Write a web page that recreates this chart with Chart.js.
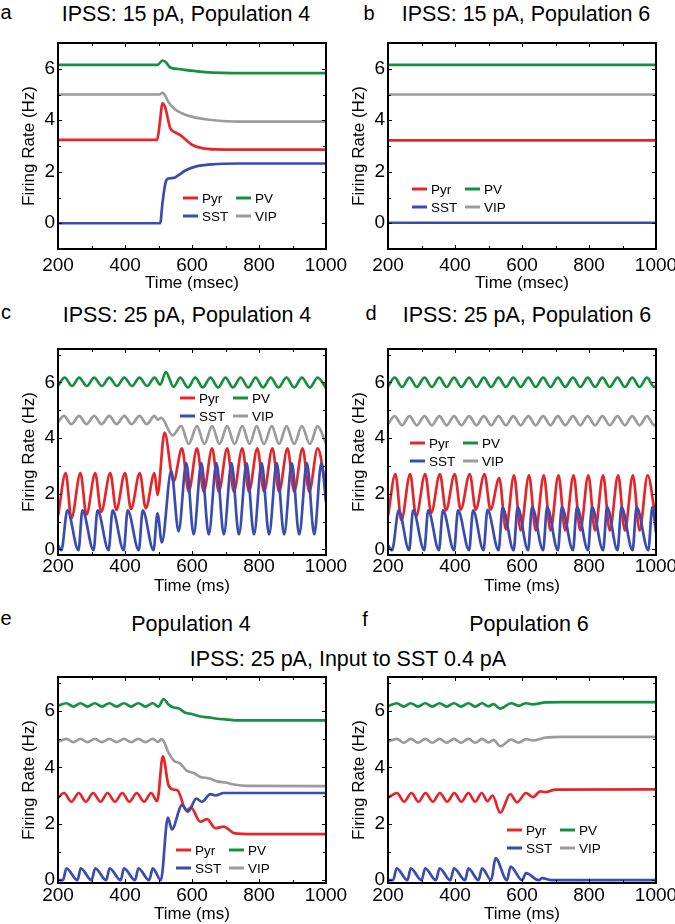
<!DOCTYPE html>
<html>
<head>
<meta charset="utf-8">
<title>IPSS firing rates</title>
<script src="https://cdn.jsdelivr.net/npm/chart.js@4.4.1/dist/chart.umd.min.js"></script>
<style>
  html, body { margin: 0; padding: 0; background: #fff; }
  body { width: 675px; height: 924px; position: relative; overflow: hidden;
         font-family: "Liberation Sans", Arial, sans-serif; color: #000; }
  canvas { position: absolute; }
  .txt { position: absolute; white-space: nowrap; line-height: 1; transform: translate(-50%, -50%); }
  .letter { font-size: 20px; }
  .title { font-size: 21.5px; }
</style>
</head>
<body>
<div class="txt letter" style="left:6px;top:12px">a</div>
<div class="txt title" style="left:186px;top:15px">IPSS: 15 pA, Population 4</div>
<div class="txt letter" style="left:369px;top:13px">b</div>
<div class="txt title" style="left:526px;top:15px">IPSS: 15 pA, Population 6</div>
<div class="txt letter" style="left:6px;top:312px">c</div>
<div class="txt title" style="left:187px;top:316px">IPSS: 25 pA, Population 4</div>
<div class="txt letter" style="left:371px;top:313px">d</div>
<div class="txt title" style="left:527px;top:316px">IPSS: 25 pA, Population 6</div>
<div class="txt letter" style="left:6px;top:618px">e</div>
<div class="txt title" style="left:191px;top:625px">Population 4</div>
<div class="txt letter" style="left:365px;top:619px">f</div>
<div class="txt title" style="left:529px;top:625px">Population 6</div>
<div class="txt title" style="left:348px;top:660px">IPSS: 25 pA, Input to SST 0.4 pA</div>

<canvas id="panelA" width="356" height="261"></canvas>
<canvas id="panelB" width="356" height="261"></canvas>
<canvas id="panelC" width="356" height="261"></canvas>
<canvas id="panelD" width="356" height="261"></canvas>
<canvas id="panelE" width="356" height="261"></canvas>
<canvas id="panelF" width="356" height="261"></canvas>

<script>
// axis ticks
const timeTicks = [200, 400, 600, 800, 1000];
const timeMinorTicks = [300, 500, 700, 900];
const rateTicks = [0, 2, 4, 6];
const rateMinorTicks = [-1, 1, 3, 5, 7];

const seriesColors = { Pyr: '#e4262b', PV: '#14903f', SST: '#3a4bb1', VIP: '#9b9b9b' };
const legendGrid = [['Pyr', 'PV'], ['SST', 'VIP']];
// draw order: first one ends up on top
const drawOrder = ['SST', 'Pyr', 'VIP', 'PV'];

// a: IPSS 15 pA, population 4  [time ms, rate Hz]
const pyrA = [[200,3.24],[496,3.24],[503,3.8],[512,4.66],[520,4.5],[535,3.7],[550,3.53],[565,3.42],[580,3.26],[600,3.05],[630,2.92],[670,2.87],[750,2.86],[1000,2.86]];
const pvA  = [[200,6.15],[497,6.15],[512,6.32],[522,6.25],[535,6.05],[560,5.99],[590,5.94],[640,5.87],[690,5.84],[760,5.83],[1000,5.83]];
const sstA = [[200,0],[505,0],[512,0.8],[521,1.58],[530,1.74],[545,1.76],[560,1.87],[580,2.05],[610,2.2],[660,2.29],[740,2.32],[1000,2.32]];
const vipA = [[200,5.0],[503,5.0],[512,5.06],[518,5.0],[530,4.7],[550,4.42],[570,4.27],[590,4.17],[640,4.04],[690,3.97],[760,3.95],[1000,3.95]];

// b: IPSS 15 pA, population 6
const pyrB = [[200,3.22],[1000,3.22]];
const pvB  = [[200,6.15],[1000,6.15]];
const sstB = [[200,0.02],[1000,0.02]];
const vipB = [[200,5.0],[1000,5.0]];

// c: IPSS 25 pA, population 4
const pyrC = [[200,1.2],[223,2.74],[240,1.12],[267,2.74],[285,1.25],[311,2.74],[329,1.35],[356,2.74],[374,1.42],[400,2.74],[418,1.45],[444,2.74],[462,1.48],[488,2.74],[497,1.96],[518,4.2],[545,2.45],[570,3.63],[590,2.08],[615,3.63],[635,2.08],[660,3.63],[680,2.08],[705,3.63],[725,2.08],[750,3.63],[770,2.08],[795,3.63],[815,2.08],[840,3.63],[860,2.08],[885,3.63],[905,2.08],[930,3.63],[950,2.08],[975,3.63],[1000,2.2]];
const pvC  = [[200,5.88],[220,6.17],[242,5.87],[263,6.17],[286,5.87],[308,6.17],[331,5.87],[353,6.17],[376,5.87],[398,6.17],[421,5.87],[443,6.17],[466,5.87],[488,6.17],[505,5.92],[522,6.37],[545,5.84],[565,6.17],[588,5.82],[610,6.17],[632,5.82],[655,6.17],[678,5.82],[700,6.17],[722,5.82],[745,6.17],[768,5.82],[790,6.17],[812,5.82],[835,6.17],[858,5.82],[882,6.17],[905,5.82],[928,6.17],[952,5.82],[975,6.17],[1000,5.8]];
const sstC = [[200,0.15],[210,-0.03],[228,1.4],[261,-0.03],[273,1.4],[306,-0.03],[318,1.4],[351,-0.03],[363,1.4],[396,-0.03],[408,1.4],[441,-0.03],[453,1.4],[485,-0.03],[497,1.3],[510,0.25],[538,2.82],[560,0.65],[583,3.1],[605,0.54],[628,3.1],[650,0.54],[673,3.1],[695,0.54],[718,3.1],[740,0.54],[763,3.1],[785,0.54],[808,3.1],[830,0.54],[853,3.1],[875,0.54],[898,3.1],[920,0.54],[943,3.1],[965,0.54],[986,3.1],[1000,1.7]];
const vipC = [[200,4.58],[218,4.8],[240,4.5],[263,4.8],[285,4.5],[308,4.8],[330,4.5],[353,4.8],[375,4.5],[398,4.8],[420,4.5],[443,4.8],[465,4.5],[488,4.8],[498,4.66],[508,4.73],[542,4.1],[568,4.43],[590,3.79],[615,4.43],[637,3.79],[660,4.43],[682,3.79],[705,4.43],[727,3.79],[750,4.43],[772,3.79],[793,4.43],[815,3.79],[838,4.43],[860,3.79],[882,4.43],[905,3.79],[928,4.43],[952,3.79],[975,4.43],[1000,3.8]];

// d: IPSS 25 pA, population 6
const pyrD = [[200,1.2],[222,2.71],[240,1.05],[266,2.71],[284,1.19],[311,2.71],[329,1.32],[355,2.71],[373,1.4],[399,2.71],[417,1.43],[444,2.71],[462,1.43],[488,2.71],[506,1.43],[532,2.56],[552,0.72],[576,2.66],[596,0.68],[621,2.66],[641,0.68],[665,2.66],[685,0.68],[709,2.66],[729,0.68],[754,2.66],[774,0.68],[798,2.66],[818,0.68],[842,2.66],[862,0.68],[887,2.66],[907,0.68],[931,2.66],[951,0.68],[975,2.66],[1000,1.0]];
const pvD  = [[200,5.86],[220,6.17],[242,5.84],[264,6.17],[286,5.84],[309,6.17],[331,5.84],[353,6.17],[375,5.84],[397,6.17],[419,5.84],[442,6.17],[464,5.84],[486,6.17],[508,5.84],[530,6.17],[552,5.84],[574,6.17],[596,5.84],[619,6.17],[641,5.84],[663,6.17],[685,5.84],[707,6.17],[729,5.84],[752,6.17],[774,5.84],[796,6.17],[818,5.84],[840,6.17],[862,5.84],[885,6.17],[907,5.84],[929,6.17],[951,5.84],[973,6.17],[995,5.84],[1000,5.86]];
const sstD = [[200,0.15],[212,-0.03],[232,1.4],[263,-0.03],[275,1.4],[308,-0.03],[320,1.4],[352,-0.03],[364,1.4],[397,-0.03],[409,1.4],[442,-0.03],[454,1.4],[485,-0.03],[497,1.42],[530,-0.03],[542,1.5],[575,-0.03],[587,1.52],[618,-0.03],[630,1.52],[663,-0.03],[675,1.52],[707,-0.03],[719,1.52],[752,-0.03],[764,1.52],[797,-0.03],[809,1.52],[842,-0.03],[854,1.52],[885,-0.03],[897,1.52],[930,-0.03],[942,1.52],[977,-0.03],[989,1.52],[1000,0.6]];
const vipD = [[200,4.5],[220,4.79],[242,4.46],[264,4.79],[286,4.46],[309,4.79],[331,4.46],[353,4.79],[375,4.46],[397,4.79],[419,4.46],[442,4.79],[464,4.46],[486,4.79],[508,4.46],[530,4.79],[552,4.46],[574,4.79],[596,4.46],[619,4.79],[641,4.46],[663,4.79],[685,4.46],[707,4.79],[729,4.46],[752,4.79],[774,4.46],[796,4.79],[818,4.46],[840,4.79],[862,4.46],[885,4.79],[907,4.46],[929,4.79],[951,4.46],[973,4.79],[995,4.46],[1000,4.5]];

// e: IPSS 25 pA + 0.4 pA to SST, population 4
const pyrE = [[200,2.92],[218,3.09],[240,2.78],[262,3.09],[283,2.78],[305,3.09],[327,2.78],[348,3.09],[370,2.78],[392,3.09],[413,2.78],[435,3.09],[457,2.78],[478,3.09],[496,2.8],[513,4.39],[530,3.36],[545,3.21],[557,3.18],[583,2.48],[597,2.57],[625,2.07],[645,2.16],[670,1.84],[695,1.9],[725,1.67],[785,1.63],[1000,1.63]];
const pvE  = [[200,6.18],[225,6.27],[246,6.15],[267,6.27],[288,6.15],[310,6.27],[331,6.15],[353,6.27],[375,6.15],[397,6.27],[418,6.15],[440,6.27],[461,6.15],[483,6.27],[500,6.15],[515,6.42],[530,6.22],[545,6.12],[560,6.09],[580,5.93],[600,5.89],[625,5.8],[650,5.77],[675,5.72],[700,5.7],[740,5.66],[1000,5.66]];
const sstE = [[200,0],[215,0],[225,0.42],[258,0],[268,0.42],[300,0],[311,0.42],[344,0],[354,0.42],[387,0],[397,0.42],[430,0],[440,0.42],[472,0],[483,0.42],[507,0],[528,2.22],[540,1.8],[570,2.66],[588,2.43],[613,2.89],[630,2.78],[655,3.05],[670,3.0],[695,3.09],[1000,3.09]];
const vipE = [[200,4.9],[225,5.01],[246,4.89],[267,5.01],[288,4.89],[310,5.01],[331,4.89],[353,5.01],[375,4.89],[397,5.01],[418,4.89],[440,5.01],[461,4.89],[483,5.01],[498,4.9],[510,5.0],[530,4.52],[547,4.22],[563,4.15],[585,3.87],[605,3.8],[625,3.66],[650,3.61],[675,3.5],[700,3.46],[725,3.39],[765,3.34],[1000,3.33]];

// f: IPSS 25 pA + 0.4 pA to SST, population 6
const pyrF = [[200,2.92],[227,3.09],[248,2.78],[270,3.09],[291,2.78],[312,3.09],[334,2.78],[355,3.09],[377,2.78],[398,3.09],[419,2.78],[440,3.09],[460,2.78],[480,3.09],[497,2.8],[512,3.0],[535,2.39],[565,3.05],[585,2.76],[612,3.09],[632,2.94],[655,3.15],[670,3.12],[700,3.21],[1000,3.22]];
const pvF  = [[200,6.17],[226,6.27],[247,6.15],[268,6.27],[290,6.15],[311,6.27],[332,6.15],[354,6.27],[375,6.15],[397,6.27],[418,6.15],[440,6.27],[460,6.15],[481,6.27],[500,6.16],[515,6.24],[535,6.08],[568,6.27],[590,6.18],[612,6.27],[632,6.23],[670,6.3],[720,6.31],[1000,6.31]];
const sstF = [[200,0],[215,0],[226,0.42],[258,0],[268,0.42],[300,0],[311,0.42],[343,0],[354,0.42],[386,0],[397,0.42],[430,0],[440,0.42],[470,0],[481,0.42],[508,0],[521,0.78],[555,0],[566,0.48],[600,0],[612,0.25],[650,0],[660,0.07],[690,0],[1000,0]];
const vipF = [[200,4.9],[226,5.01],[247,4.87],[268,5.01],[290,4.87],[311,5.01],[332,4.87],[354,5.01],[375,4.87],[397,5.01],[418,4.87],[440,5.01],[460,4.87],[481,5.01],[500,4.88],[515,4.97],[535,4.75],[568,4.98],[590,4.87],[612,5.0],[632,4.95],[670,5.05],[720,5.08],[1000,5.08]];

const FONT = '"Liberation Sans", Arial, sans-serif';
const Y_AXIS_W = 58, X_AXIS_H = 45, PAD_TOP = 10, PAD_RIGHT = 30;

const panels = [
  { id: 'panelA', left: 0,   top: 33,  yRange: [-1, 7],     tickPad: 5, titlePad: 0, xTitle: 'Time (msec)', series: { Pyr: pyrA, PV: pvA, SST: sstA, VIP: vipA }, legendAt: [125, 155] },
  { id: 'panelB', left: 330, top: 33,  yRange: [-1, 7],     tickPad: 5, titlePad: 0, xTitle: 'Time (msec)', series: { Pyr: pyrB, PV: pvB, SST: sstB, VIP: vipB }, legendAt: [24, 146] },
  { id: 'panelC', left: 0,   top: 339, yRange: [-0.2, 7.2], tickPad: 0, titlePad: 3, xTitle: 'Time (ms)',   series: { Pyr: pyrC, PV: pvC, SST: sstC, VIP: vipC }, legendAt: [122, 49] },
  { id: 'panelD', left: 330, top: 339, yRange: [-0.2, 7.2], tickPad: 0, titlePad: 3, xTitle: 'Time (ms)',   series: { Pyr: pyrD, PV: pvD, SST: sstD, VIP: vipD }, legendAt: [22, 94] },
  { id: 'panelE', left: 0,   top: 667, yRange: [-0.1, 7.2], tickPad: 1, titlePad: 3, xTitle: 'Time (ms)',   series: { Pyr: pyrE, PV: pvE, SST: sstE, VIP: vipE }, legendAt: [118, 173] },
  { id: 'panelF', left: 330, top: 667, yRange: [-0.1, 7.2], tickPad: 1, titlePad: 3, xTitle: 'Time (ms)',   series: { Pyr: pyrF, PV: pvF, SST: sstF, VIP: vipF }, legendAt: [119, 153] }
];

// black box with inward ticks on all four sides
const framePlugin = {
  id: 'frame',
  afterDatasetsDraw(chart) {
    const { ctx, chartArea: area } = chart;
    const x = chart.scales.x, y = chart.scales.y;
    ctx.save();
    ctx.strokeStyle = '#000';
    ctx.lineWidth = 1;
    ctx.beginPath();
    const markX = (v, len) => {
      const px = Math.round(x.getPixelForValue(v)) + 0.5;
      ctx.moveTo(px, area.bottom); ctx.lineTo(px, area.bottom - len);
      ctx.moveTo(px, area.top); ctx.lineTo(px, area.top + len);
    };
    const markY = (v, len) => {
      const py = Math.round(y.getPixelForValue(v)) + 0.5;
      ctx.moveTo(area.left, py); ctx.lineTo(area.left + len, py);
      ctx.moveTo(area.right, py); ctx.lineTo(area.right - len, py);
    };
    timeTicks.forEach(v => markX(v, 4));
    timeMinorTicks.forEach(v => markX(v, 3));
    rateTicks.forEach(v => markY(v, 4));
    rateMinorTicks.filter(v => v > y.min && v < y.max).forEach(v => markY(v, 3));
    ctx.stroke();
    ctx.lineWidth = 2;
    ctx.strokeRect(area.left, area.top, area.width, area.height);
    ctx.restore();
  }
};

// 2x2 legend placed inside the plot box
const legendPlugin = {
  id: 'boxLegend',
  afterDraw(chart, args, opts) {
    const { ctx, chartArea: area } = chart;
    const [dx, dy] = opts.at;
    ctx.save();
    ctx.font = '13.5px ' + FONT;
    ctx.textBaseline = 'middle';
    ctx.fillStyle = '#000';
    legendGrid.forEach((row, r) => row.forEach((name, c) => {
      const x0 = area.left + dx + c * 53;
      const y0 = area.top + dy + r * 18;
      ctx.strokeStyle = seriesColors[name];
      ctx.lineWidth = 3;
      ctx.beginPath();
      ctx.moveTo(x0, y0);
      ctx.lineTo(x0 + 15, y0);
      ctx.stroke();
      ctx.fillText(name, x0 + 19, y0 + 1);
    }));
    ctx.restore();
  }
};

Chart.defaults.font.family = FONT;
Chart.defaults.color = '#000';

function buildPanel(p) {
  const canvas = document.getElementById(p.id);
  canvas.style.left = p.left + 'px';
  canvas.style.top = p.top + 'px';

  const datasets = drawOrder.map(name => ({
    label: name,
    data: p.series[name],
    borderColor: seriesColors[name],
    borderWidth: 2.7,
    pointRadius: 0,
    fill: false,
    cubicInterpolationMode: 'monotone'
  }));

  return new Chart(canvas, {
    type: 'line',
    data: { datasets },
    plugins: [framePlugin, legendPlugin],
    options: {
      responsive: false,
      animation: false,
      layout: { padding: { top: PAD_TOP, right: PAD_RIGHT, left: 0, bottom: 0 } },
      plugins: {
        legend: { display: false },
        tooltip: { enabled: false },
        boxLegend: { at: p.legendAt }
      },
      scales: {
        x: {
          type: 'linear',
          min: 200,
          max: 1000,
          grid: { display: false, drawTicks: false },
          border: { display: false },
          afterBuildTicks: s => { s.ticks = timeTicks.map(v => ({ value: v })); },
          afterFit: s => { s.height = X_AXIS_H; s.paddingLeft = 0; s.paddingRight = 0; },
          ticks: { autoSkip: false, maxRotation: 0, minRotation: 0, padding: p.tickPad,
                   font: { size: 19 }, callback: v => String(v) },
          title: { display: true, text: p.xTitle, font: { size: 17 }, padding: { top: 0, bottom: p.titlePad } }
        },
        y: {
          min: p.yRange[0],
          max: p.yRange[1],
          grid: { display: false, drawTicks: false },
          border: { display: false },
          afterBuildTicks: s => { s.ticks = rateTicks.map(v => ({ value: v })); },
          afterFit: s => { s.width = Y_AXIS_W; s.paddingTop = 0; s.paddingBottom = 0; },
          ticks: { padding: 3, font: { size: 19 }, callback: v => String(v) },
          title: { display: true, text: 'Firing Rate (Hz)', font: { size: 17 }, padding: { top: 19, bottom: 0 } }
        }
      }
    }
  });
}

panels.forEach(buildPanel);
</script>
</body>
</html>
